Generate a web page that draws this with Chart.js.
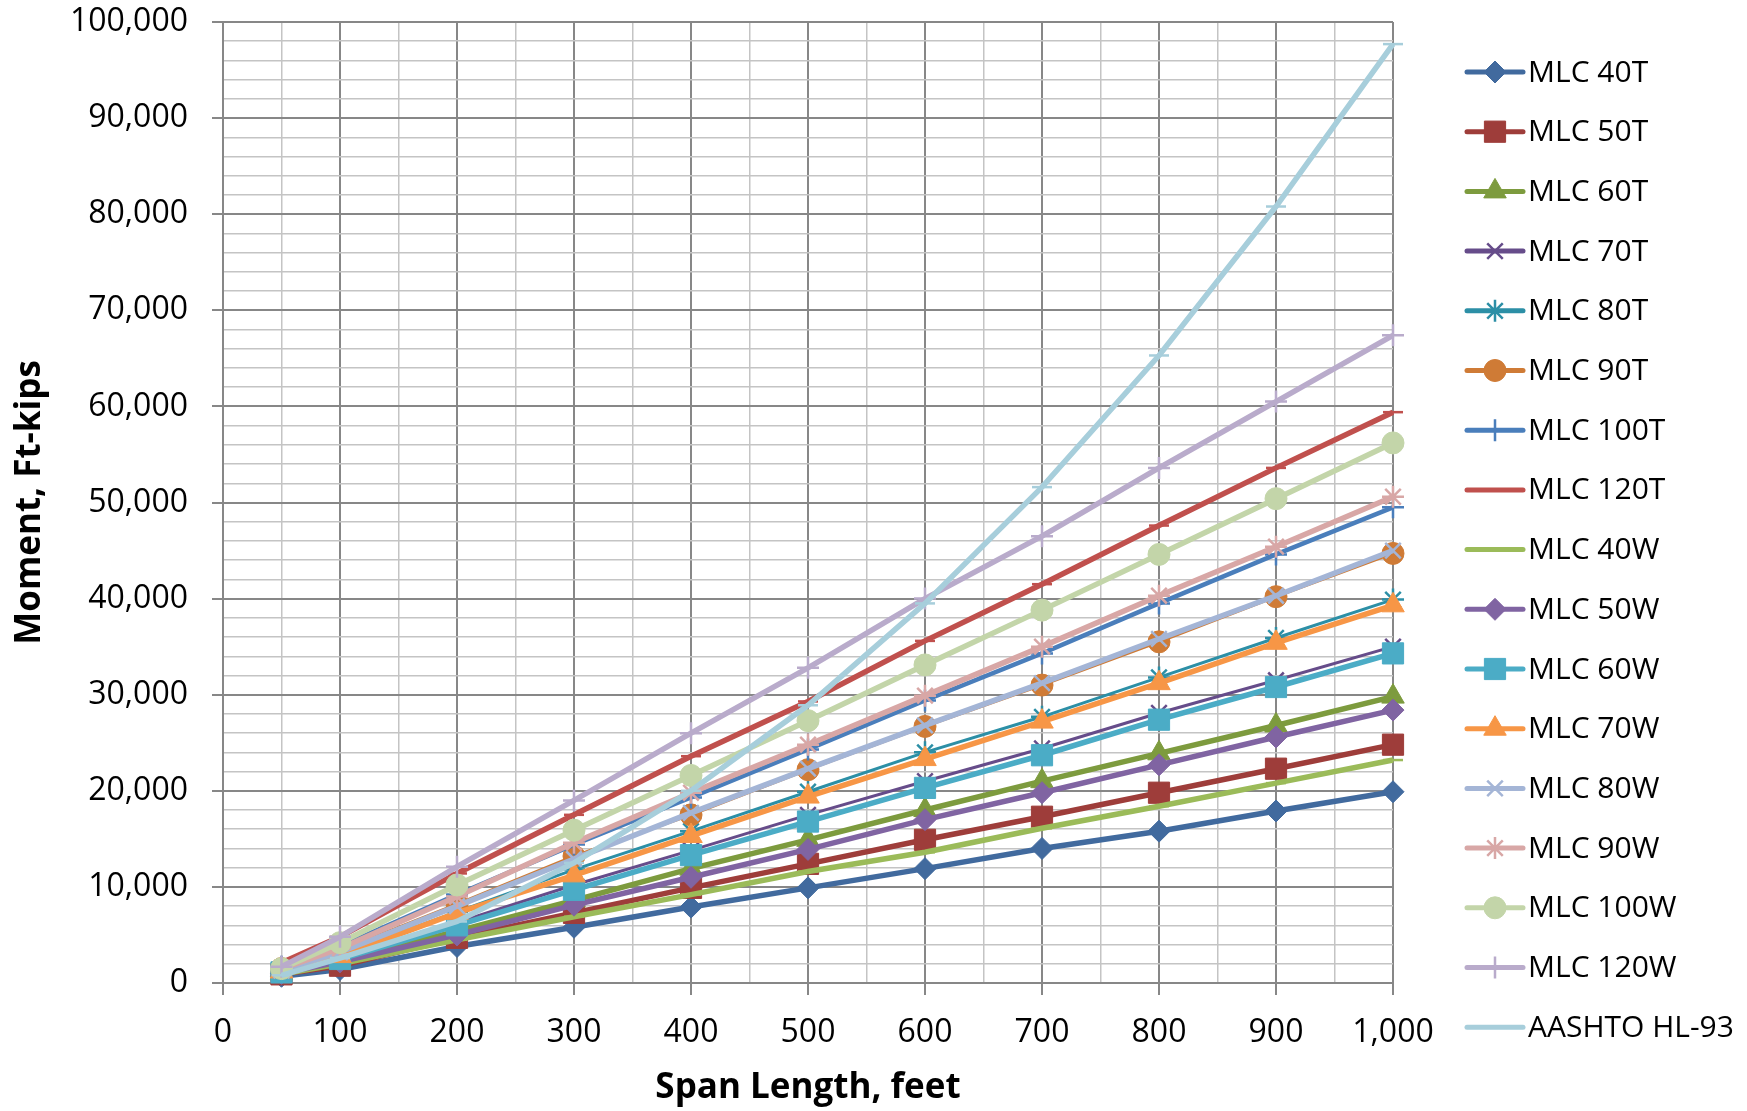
<!DOCTYPE html>
<html>
<head>
<meta charset="utf-8">
<title>Moment vs Span Length</title>
<script src="https://cdn.jsdelivr.net/npm/chart.js@4.4.1/dist/chart.umd.min.js"></script>
<style>
  html, body { margin: 0; padding: 0; background: #fff; }
  #wrap { width: 1747px; height: 1111px; }
</style>
</head>
<body>
<div id="wrap"><canvas id="momentChart" width="1747" height="1111"></canvas></div>
<script>
// Span lengths (feet)
const spans = [50, 100, 200, 300, 400, 500, 600, 700, 800, 900, 1000];

const seriesNames = [
    'MLC 40T', 'MLC 50T', 'MLC 60T', 'MLC 70T', 'MLC 80T', 'MLC 90T', 'MLC 100T', 'MLC 120T',
    'MLC 40W', 'MLC 50W', 'MLC 60W', 'MLC 70W', 'MLC 80W', 'MLC 90W', 'MLC 100W', 'MLC 120W',
    'AASHTO HL-93'
];

// Moments, ft-kips
const mlc40T  = [700, 1400, 3800, 5800, 7900, 9900, 11900, 14000, 15800, 17900, 19900];
const mlc50T  = [900, 1800, 4700, 7300, 9900, 12400, 14900, 17300, 19800, 22300, 24800];
const mlc60T  = [1000, 2300, 5400, 8600, 11900, 14900, 18000, 21000, 23900, 26800, 29800];
const mlc70T  = [1200, 2600, 6300, 10200, 13800, 17500, 21000, 24400, 28100, 31500, 35000];
const mlc80T  = [1400, 3000, 7400, 11800, 15800, 19900, 24000, 27700, 31800, 35900, 39900];
const mlc90T  = [1500, 3400, 8200, 13200, 17500, 22200, 26700, 31000, 35500, 40200, 44700];
const mlc100T = [1700, 3800, 9200, 14400, 19300, 24300, 29400, 34300, 39500, 44600, 49500];
const mlc120T = [2100, 4800, 11400, 17500, 23600, 29300, 35600, 41500, 47600, 53600, 59400];
const mlc40W  = [900, 2000, 4500, 6900, 9200, 11600, 13600, 16100, 18400, 20800, 23200];
const mlc50W  = [1000, 2200, 5000, 8100, 11000, 13900, 17000, 19800, 22700, 25600, 28400];
const mlc60W  = [1100, 2500, 6000, 9700, 13300, 16800, 20300, 23700, 27400, 30800, 34300];
const mlc70W  = [1200, 2800, 7300, 11200, 15300, 19400, 23300, 27200, 31200, 35400, 39300];
const mlc80W  = [1300, 3200, 8000, 12900, 17700, 22300, 26800, 31200, 35800, 40300, 45000];
const mlc90W  = [1500, 3600, 9000, 14600, 19800, 24800, 29900, 35000, 40300, 45400, 50600];
const mlc100W = [1500, 4200, 10200, 15900, 21600, 27300, 33100, 38800, 44600, 50400, 56200];
const mlc120W = [1700, 4800, 12100, 19000, 26000, 32800, 40000, 46500, 53600, 60500, 67400];
const hl93    = [800, 2600, 6400, 12500, 20000, 28900, 39500, 51600, 65300, 80800, 97700];

const seriesValues = [
    mlc40T, mlc50T, mlc60T, mlc70T, mlc80T, mlc90T, mlc100T, mlc120T,
    mlc40W, mlc50W, mlc60W, mlc70W, mlc80W, mlc90W, mlc100W, mlc120W, hl93
];

// Axis ticks
const xTicks = [0, 100, 200, 300, 400, 500, 600, 700, 800, 900, 1000];
const yTicks = [0, 10000, 20000, 30000, 40000, 50000, 60000, 70000, 80000, 90000, 100000];

// Styles
const seriesColors = [
    '#416A9E', '#9E3D3A', '#7D9B3E', '#664C8A', '#2C8FA6', '#CF7B36', '#4A7EBB', '#C0504D',
    '#9BBB59', '#8064A2', '#4BACC6', '#F79646', '#A4B5D6', '#D8A7A6', '#C3D5A9', '#B9ABCB',
    '#A7CEDB'
];
const pointStyles = [
    'rectRot', 'rect', 'triangle', 'crossRot', 'star', 'circle', 'cross', 'line',
    'line', 'rectRot', 'rect', 'triangle', 'crossRot', 'star', 'circle', 'cross', 'line'
];
const pointSizes = [11, 15, 13, 11, 11, 11, 11, 10, 10, 11, 15, 13, 11, 11, 11, 11, 10];
const lineWidths = [5.5, 5.5, 5.5, 3, 3, 3, 4.5, 5.5, 5.5, 5.5, 5.5, 5.5, 5.5, 5.5, 5.5, 5.5, 5.5];

const FONT = "'Open Sans', 'DejaVu Sans', sans-serif";
const MAJOR_GRID = '#878787';
const MINOR_GRID = '#c4c4c4';

function isStrokeStyle(style) {
    return style === 'crossRot' || style === 'star' || style === 'cross' || style === 'line';
}

const datasets = seriesNames.map(function(name, i) {
    const style = pointStyles[i];
    return {
        label: name,
        data: spans.map((s, k) => ({x: s, y: seriesValues[i][k]})),
        borderColor: seriesColors[i],
        backgroundColor: seriesColors[i],
        borderWidth: lineWidths[i],
        pointStyle: style,
        pointRadius: pointSizes[i],
        pointHoverRadius: pointSizes[i],
        pointBorderWidth: isStrokeStyle(style) ? 2.5 : 1,
        pointBackgroundColor: seriesColors[i],
        pointBorderColor: seriesColors[i],
        tension: 0,
        clip: false,
        order: seriesNames.length - i
    };
});

// Legend drawn by hand: line with marker in the middle, like the spreadsheet legend
const lineLegend = {
    id: 'lineLegend',
    afterDraw(chart) {
        const ctx = chart.ctx;
        const x0 = 1467, x1 = 1523, top = 72, gap = 59.7;
        ctx.save();
        seriesNames.forEach(function(name, i) {
            const y = top + i * gap;
            ctx.strokeStyle = seriesColors[i];
            ctx.fillStyle = seriesColors[i];
            ctx.lineWidth = 5;
            ctx.lineCap = 'round';
            ctx.beginPath();
            ctx.moveTo(x0, y);
            ctx.lineTo(x1, y);
            ctx.stroke();
            ctx.lineCap = 'butt';
            const style = pointStyles[i];
            if (style !== 'line') {
                ctx.lineWidth = isStrokeStyle(style) ? 2.5 : 1;
                Chart.helpers.drawPoint(ctx, {
                    pointStyle: style,
                    radius: pointSizes[i],
                    rotation: 0,
                    borderWidth: ctx.lineWidth
                }, (x0 + x1) / 2, y);
            }
            ctx.fillStyle = '#000';
            ctx.font = '30px ' + FONT;
            ctx.textAlign = 'left';
            ctx.textBaseline = 'middle';
            ctx.fillText(name, x1 + 5, y + 1);
        });
        ctx.restore();
    }
};

const isMajorX = v => xTicks.includes(v);
const isMajorY = v => yTicks.includes(v);

new Chart(document.getElementById('momentChart'), {
    type: 'line',
    data: { datasets: datasets },
    options: {
        responsive: false,
        animation: false,
        layout: { padding: { left: 0, top: 22, right: 354, bottom: 0 } },
        plugins: {
            legend: { display: false },
            tooltip: { enabled: false }
        },
        scales: {
            x: {
                type: 'linear',
                min: 0,
                max: 1000,
                ticks: {
                    stepSize: 50,
                    autoSkip: false,
                    maxRotation: 0,
                    padding: 19,
                    color: '#000',
                    font: { family: FONT, size: 32 },
                    callback: v => isMajorX(v) ? v.toLocaleString('en-US') : ''
                },
                grid: {
                    color: c => isMajorX(c.tick.value) ? MAJOR_GRID : MINOR_GRID,
                    tickColor: c => isMajorX(c.tick.value) ? MAJOR_GRID : 'rgba(0,0,0,0)',
                    lineWidth: c => isMajorX(c.tick.value) ? 2 : 1.5,
                    tickLength: 12
                },
                border: { color: MAJOR_GRID, width: 2 },
                title: {
                    display: true,
                    text: 'Span Length, feet',
                    color: '#000',
                    font: { family: FONT, size: 35, weight: 'bold' },
                    padding: { top: 0, bottom: 2 }
                },
                afterFit: function(scale) {
                    scale.height = 128;
                    scale.paddingLeft = 0;
                    scale.paddingRight = 0;
                }
            },
            y: {
                min: 0,
                max: 100000,
                ticks: {
                    stepSize: 2000,
                    autoSkip: false,
                    padding: 24,
                    color: '#000',
                    font: { family: FONT, size: 32 },
                    callback: v => isMajorY(v) ? v.toLocaleString('en-US') : ''
                },
                grid: {
                    color: c => isMajorY(c.tick.value) ? MAJOR_GRID : MINOR_GRID,
                    tickColor: c => isMajorY(c.tick.value) ? MAJOR_GRID : 'rgba(0,0,0,0)',
                    lineWidth: c => isMajorY(c.tick.value) ? 2 : 1.5,
                    tickLength: 11
                },
                border: { color: MAJOR_GRID, width: 2 },
                title: {
                    display: true,
                    text: 'Moment, Ft-kips',
                    color: '#000',
                    font: { family: FONT, size: 35, weight: 'bold' },
                    padding: { top: 9, bottom: 0 }
                },
                afterFit: function(scale) {
                    scale.width = 223;
                    scale.paddingTop = 0;
                    scale.paddingBottom = 0;
                }
            }
        }
    },
    plugins: [lineLegend]
});
</script>
</body>
</html>
